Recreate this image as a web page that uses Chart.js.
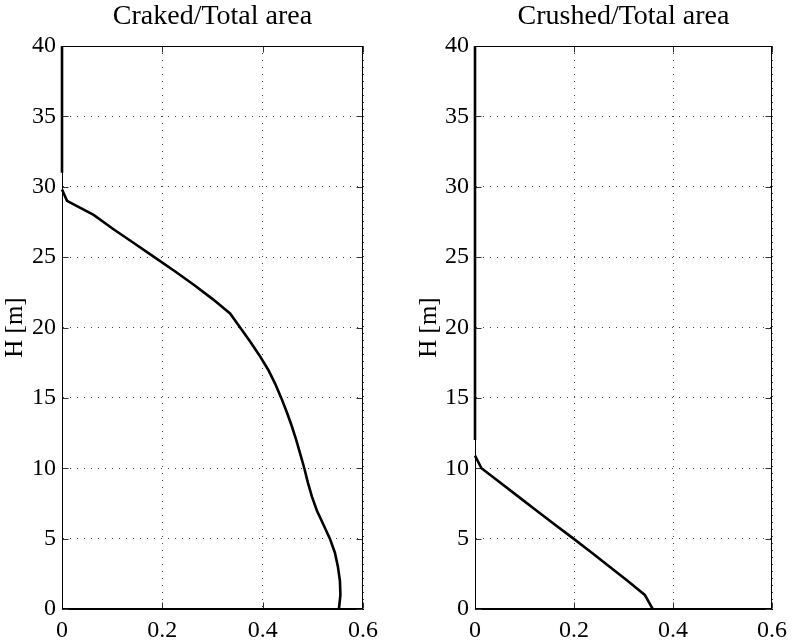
<!DOCTYPE html>
<html>
<head>
<meta charset="utf-8">
<script src="https://cdn.jsdelivr.net/npm/chart.js@4.4.0/dist/chart.umd.min.js"></script>
<style>
  body { margin: 0; background: #fff; }
  #wrap { position: relative; width: 794px; height: 642px; }
  canvas { position: absolute; top: 0; }
</style>
</head>
<body>
<div id="wrap">
  <canvas id="cracked" width="397" height="642" style="left:0"></canvas>
  <canvas id="crushed" width="381" height="642" style="left:413px"></canvas>
</div>
<script>
// heights [m] and area ratios (null = break in the curve)
const heightCracked = [40, 31, 30.5, 29.8, 29, 28, 27, 26, 25, 24, 23, 22, 21, 20, 19, 18, 17, 16, 15, 14, 13, 12, 11, 10, 9, 8, 7, 6, 5, 4, 3, 2, 1, 0];
const crackedRatio  = [0, 0, null, 0, 0.010, 0.063, 0.102, 0.143, 0.184, 0.225, 0.264, 0.301, 0.335, 0.355, 0.375, 0.394, 0.411, 0.425, 0.437, 0.448, 0.458, 0.467, 0.475, 0.483, 0.490, 0.498, 0.508, 0.521, 0.534, 0.544, 0.550, 0.554, 0.555, 0.552];

const heightCrushed = [40, 12, 11.5, 10.9, 10, 9, 8, 7, 6, 5, 4, 3, 2, 1, 0];
const crushedRatio  = [0, 0, null, 0, 0.013, 0.050, 0.087, 0.124, 0.161, 0.199, 0.236, 0.272, 0.308, 0.343, 0.359];

const xTicks = [0, 0.2, 0.4, 0.6];
const yTicks = [0, 5, 10, 15, 20, 25, 30, 35, 40];

const serif = "'Liberation Serif', 'Times New Roman', serif";

// box around the plot + MATLAB style inner tick marks
const boxPlugin = {
  id: 'box',
  beforeDatasetsDraw(chart) {
    const { ctx, chartArea: a, scales } = chart;
    const L = Math.round(a.left) + 0.5, R = Math.round(a.right) - 0.5;
    const T = Math.round(a.top) + 0.5, B = Math.round(a.bottom) - 0.5;
    ctx.save();
    ctx.strokeStyle = '#333';
    ctx.lineWidth = 1;
    ctx.beginPath();
    yTicks.forEach(v => {
      const y = Math.round(scales.y.getPixelForValue(v)) + 0.5;
      ctx.moveTo(L, y); ctx.lineTo(L + 6, y);
      ctx.moveTo(R, y); ctx.lineTo(R - 6, y);
    });
    xTicks.forEach(v => {
      const x = Math.round(scales.x.getPixelForValue(v)) + 0.5;
      ctx.moveTo(x, B); ctx.lineTo(x, B - 6);
      ctx.moveTo(x, T); ctx.lineTo(x, T + 6);
    });
    ctx.stroke();
    ctx.strokeStyle = '#000';
    ctx.strokeRect(L, T, R - L, B - T);
    ctx.restore();
  }
};

function makeChart(id, title, heights, ratios, titlePad, rightPad) {
  const points = heights.map((h, i) => ({ x: ratios[i], y: h }));
  return new Chart(document.getElementById(id), {
    type: 'scatter',
    data: {
      datasets: [{
        data: points,
        showLine: true,
        spanGaps: false,
        borderColor: '#000',
        borderWidth: 2.6,
        pointRadius: 0,
        tension: 0,
        clip: { left: 3, right: 3, top: 0, bottom: 0 }
      }]
    },
    options: {
      responsive: false,
      animation: false,
      layout: { padding: { left: 0, right: rightPad, top: 0, bottom: 0 } },
      plugins: { legend: { display: false }, tooltip: { enabled: false } },
      scales: {
        x: {
          type: 'linear',
          position: 'bottom',
          min: 0, max: 0.6,
          afterBuildTicks: s => { s.ticks = xTicks.map(v => ({ value: v })); },
          afterFit: s => { s.height = 33; },
          ticks: { color: '#000', padding: 7, font: { family: serif, size: 24 } },
          grid: { color: '#444', drawTicks: false },
          border: { display: true, color: '#000', width: 1, dash: [1, 6] }
        },
        top: {
          type: 'linear',
          position: 'top',
          min: 0, max: 0.6,
          afterFit: s => { s.height = 46; },
          ticks: { display: false },
          grid: { display: false, drawTicks: false },
          border: { display: false },
          title: { display: true, text: title, color: '#000', padding: { top: 0, bottom: 0 }, font: { family: serif, size: 28 } }
        },
        y: {
          type: 'linear',
          position: 'left',
          min: 0, max: 40,
          afterBuildTicks: s => { s.ticks = yTicks.map(v => ({ value: v })); },
          afterFit: s => { s.width = 62; },
          ticks: { color: '#000', padding: 6, font: { family: serif, size: 24 } },
          grid: { color: '#444', drawTicks: false },
          border: { display: true, color: '#000', width: 1, dash: [1, 6] },
          title: { display: true, text: 'H [m]', color: '#000', padding: { top: titlePad, bottom: 0 }, font: { family: serif, size: 25 } }
        }
      }
    },
    plugins: [boxPlugin]
  });
}

makeChart('cracked', 'Craked/Total area', heightCracked, crackedRatio, 0, 34);
makeChart('crushed', 'Crushed/Total area', heightCrushed, crushedRatio, 1, 18);
</script>
</body>
</html>
